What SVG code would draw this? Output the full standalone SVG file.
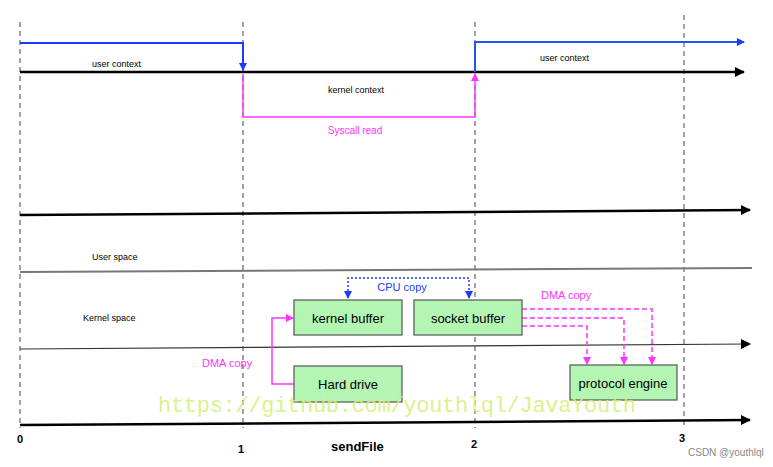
<svg xmlns="http://www.w3.org/2000/svg" width="773" height="467" viewBox="0 0 773 467">
<style>
.t{font-family:"Liberation Sans",Arial,sans-serif;font-size:9px;fill:#000}
.g{stroke:#444;stroke-width:1;stroke-dasharray:5,4}
.ax{stroke:#000;stroke-width:2.5;fill:none}
.box rect{fill:#b3f5b3;stroke:#555;stroke-width:1.2}
.box text{font-family:"Liberation Sans",Arial,sans-serif;font-size:13px;text-anchor:middle}
.m{fill:#ff33ff;font-family:"Liberation Sans",Arial,sans-serif;font-size:11px}
</style>
<defs>
<marker id="ab" markerWidth="8" markerHeight="8" refX="7" refY="4" orient="auto" markerUnits="userSpaceOnUse"><path d="M0,0L8,4L0,8z" fill="#1a3cff"/></marker>
<marker id="ab2" markerWidth="8" markerHeight="8" refX="7" refY="4" orient="auto-start-reverse" markerUnits="userSpaceOnUse"><path d="M0,0L8,4L0,8z" fill="#1a3cff"/></marker>
<marker id="ak" markerWidth="10" markerHeight="10" refX="9" refY="5" orient="auto" markerUnits="userSpaceOnUse"><path d="M0,0L10,5L0,10z" fill="#000"/></marker>
<marker id="am" markerWidth="8" markerHeight="8" refX="7" refY="4" orient="auto" markerUnits="userSpaceOnUse"><path d="M0,0L8,4L0,8z" fill="#ff33ff"/></marker>
</defs>
<rect width="773" height="467" fill="#fff"/>
<g id="grid">
<line class="g" x1="20" y1="22" x2="20" y2="428"/>
<line class="g" x1="243" y1="22" x2="243" y2="428"/>
<line class="g" x1="475" y1="22" x2="475" y2="428"/>
<line class="g" x1="684" y1="15" x2="684" y2="428"/>
</g>
<g id="connectors">
<line class="ax" x1="20" y1="72" x2="744" y2="72" marker-end="url(#ak)"/>
<line class="ax" x1="20" y1="215" x2="750" y2="210" marker-end="url(#ak)"/>
<line x1="20" y1="272" x2="752" y2="268" stroke="#777" stroke-width="2"/>
<line x1="20" y1="349" x2="750" y2="344" stroke="#333" stroke-width="1.2" marker-end="url(#ak)"/>
<line class="ax" x1="20" y1="425" x2="750" y2="420" marker-end="url(#ak)"/>
<path d="M20,43H243V70" fill="none" stroke="#1a3cff" stroke-width="2" marker-end="url(#ab)"/>
<path d="M243,74V117H475V74" fill="none" stroke="#ff33ff" stroke-width="1.5" marker-end="url(#am)"/>
<path d="M475,72V42H744" fill="none" stroke="#2255ee" stroke-width="2" marker-end="url(#ab)"/>
<path d="M469,298V278H348V298" fill="none" stroke="#1a3cff" stroke-width="1.5" stroke-dasharray="2,2" marker-start="url(#ab2)" marker-end="url(#ab2)"/>
<path d="M294,384H272V318H293" fill="none" stroke="#ff33ff" stroke-width="1.5" marker-end="url(#am)"/>
<path d="M522,309H652V364" fill="none" stroke="#ff33ff" stroke-width="1.5" stroke-dasharray="5,3" marker-end="url(#am)"/>
<path d="M522,318H624V364" fill="none" stroke="#ff33ff" stroke-width="1.5" stroke-dasharray="5,3" marker-end="url(#am)"/>
<path d="M522,326H587V364" fill="none" stroke="#ff33ff" stroke-width="1.5" stroke-dasharray="5,3" marker-end="url(#am)"/>
</g>
<g id="kernel-buffer" class="box"><rect x="294" y="300" width="108" height="35"/><text x="348" y="323">kernel buffer</text></g>
<g id="socket-buffer" class="box"><rect x="414" y="300" width="108" height="35"/><text x="468" y="323">socket buffer</text></g>
<g id="hard-drive" class="box"><rect x="294" y="366" width="108" height="36"/><text x="348" y="389">Hard drive</text></g>
<g id="protocol-engine" class="box"><rect x="570" y="365" width="107" height="35"/><text x="623" y="388">protocol engine</text></g>
<g id="labels">
<text class="t" x="92" y="67">user context</text>
<text class="t" x="328" y="93">kernel context</text>
<text x="355" y="134" style="font-family:'Liberation Sans',sans-serif;font-size:10px;fill:#ff33ff" text-anchor="middle">Syscall read</text>
<text class="t" x="540" y="61">user context</text>
<text class="t" x="92" y="260">User space</text>
<text class="t" x="83" y="321">Kernel  space</text>
<text x="402" y="291" style="font-family:'Liberation Sans',sans-serif;font-size:11px;fill:#1a3cff" text-anchor="middle">CPU copy</text>
<text class="m" x="541" y="299">DMA copy</text>
<text class="m" x="202" y="367">DMA copy</text>
<text x="158" y="412" textLength="478" style="font-family:'Liberation Mono',monospace;font-size:22px;fill:#d4f07a;opacity:0.85">https://github.com/youthlql/JavaYouth</text>
<text x="17" y="443" style="font-family:'Liberation Sans',sans-serif;font-size:11px;font-weight:bold">0</text>
<text x="238" y="453" style="font-family:'Liberation Sans',sans-serif;font-size:11px;font-weight:bold">1</text>
<text x="331" y="451" style="font-family:'Liberation Sans',sans-serif;font-size:13px;font-weight:bold">sendFile</text>
<text x="471" y="448" style="font-family:'Liberation Sans',sans-serif;font-size:11px;font-weight:bold">2</text>
<text x="679" y="442" style="font-family:'Liberation Sans',sans-serif;font-size:11px;font-weight:bold">3</text>
<text x="688" y="456" style="font-family:'Liberation Sans',sans-serif;font-size:10px;fill:#888">CSDN @youthlql</text>
</g>
</svg>
